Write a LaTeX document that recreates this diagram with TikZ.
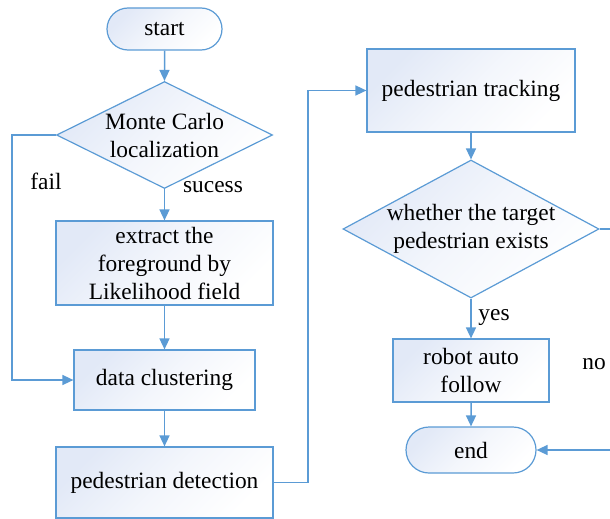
\documentclass[tikz,border=0pt]{standalone}
\usepackage{fontspec}
\setmainfont{Liberation Serif}
\usetikzlibrary{shapes.geometric,shapes.misc,arrows.meta}
\definecolor{flowline}{RGB}{91,155,213}
\definecolor{flowfill}{RGB}{226,233,247}
\begin{document}
\begin{tikzpicture}[x=1pt,y=-1pt,
    every node/.style={font=\fontsize{23.4}{28}\selectfont},
    shadebox/.style={draw=flowline,line width=1.2pt,top color=flowfill,bottom color=white,middle color=white!60!flowfill,shading angle=45,align=center},
    terminal/.style={shadebox,rounded rectangle,inner sep=0pt},
    process/.style={shadebox,rectangle,inner sep=0pt},
    decision/.style={shadebox,diamond,inner sep=-8pt},
    flow/.style={draw=flowline,line width=1.5pt,-{Triangle[length=11pt,width=10pt]}}]
  \clip (0,0) rectangle (610,519);
  % Left column
  \node[terminal,minimum width=115pt,minimum height=42pt] (start) at (164.5,29) {start};
  \node[decision,aspect=2.02,minimum width=216pt,minimum height=107pt] (mcl) at (164.5,135) {Monte Carlo\\localization};
  \node[process,minimum width=217pt,minimum height=84pt] (extract) at (164.5,263) {extract the\\foreground by\\Likelihood field};
  \node[process,minimum width=181pt,minimum height=60pt] (cluster) at (164.5,380) {data clustering};
  \node[process,minimum width=217pt,minimum height=71pt] (detect) at (164.5,482.5) {pedestrian detection};
  % Right column
  \node[process,minimum width=208pt,minimum height=83pt] (track) at (471,90.5) {pedestrian tracking};
  \node[decision,aspect=1.86,minimum width=256pt,minimum height=138pt] (exists) at (471,229) {whether the target\\pedestrian exists};
  \node[process,minimum width=156pt,minimum height=63pt] (follow) at (471,370.5) {robot auto\\follow};
  \node[terminal,minimum width=130pt,minimum height=46pt] (end) at (471,450) {end};
  % Labels
  \node (fail) at (46,181) {fail};
  \node (sucess) at (213,187) {sucess};
  \node (yes) at (494,318) {yes};
  \node (no) at (594,364) {no};
  % Connectors
  \coordinate (failturn) at (12,135);
  \coordinate (trackturn) at (308,482.5);
  \coordinate (noturn) at (630,229);
  \draw[flow] (start) -- (mcl);
  \draw[flow] (mcl) -- (extract);
  \draw[flow] (extract) -- (cluster);
  \draw[flow] (cluster) -- (detect);
  \draw[flow] (mcl.west) -- (failturn) |- (cluster.west);
  \draw[flow] (detect.east) -- (trackturn) |- (track.west);
  \draw[flow] (track) -- (exists);
  \draw[flow] (exists) -- (follow);
  \draw[flow] (follow) -- (end);
  \draw[flow] (exists.east) -- (noturn) |- (end.east);
\end{tikzpicture}
\end{document}
